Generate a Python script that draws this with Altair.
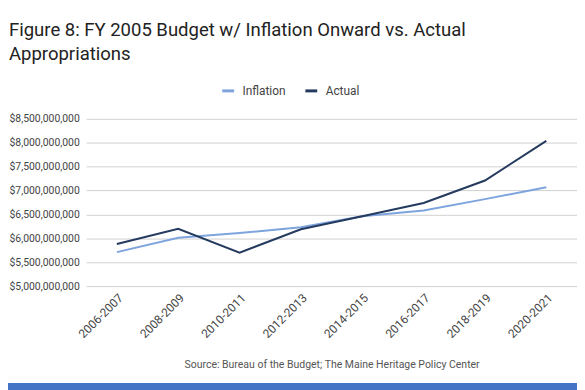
import altair as alt
import pandas as pd

periods = ["2006-2007", "2008-2009", "2010-2011", "2012-2013",
           "2014-2015", "2016-2017", "2018-2019", "2020-2021"]
inflation = [5.71e9, 6.01e9, 6.11e9, 6.23e9, 6.46e9, 6.58e9, 6.82e9, 7.07e9]
actual = [5.88e9, 6.20e9, 5.70e9, 6.19e9, 6.46e9, 6.74e9, 7.21e9, 8.04e9]
series_names = ["Inflation", "Actual"]
series_colors = ["#7ea4de", "#243a5e"]
y_ticks = [5.0e9, 5.5e9, 6.0e9, 6.5e9, 7.0e9, 7.5e9, 8.0e9, 8.5e9]

rows = []
for name, vals in zip(series_names, [inflation, actual]):
    for p, v in zip(periods, vals):
        rows.append({"Period": p, "Value": v, "Series": name})
df = pd.DataFrame(rows)

FONT = "Roboto"

lines = alt.Chart(df).mark_line(strokeWidth=2).encode(
    x=alt.X("Period:N", sort=periods,
            scale=alt.Scale(paddingInner=1, paddingOuter=0.5),
            axis=alt.Axis(labelAngle=-45, labelFontSize=12, labelColor="#444",
                          labelFont=FONT, ticks=False, domain=False, grid=False,
                          labelPadding=6,
                          title="Source: Bureau of the Budget; The Maine Heritage Policy Center",
                          titleFont=FONT, titleFontSize=10.6, titleFontWeight="normal",
                          titleColor="#555", titlePadding=20)),
    y=alt.Y("Value:Q", scale=alt.Scale(domain=[5.0e9, 8.5e9], nice=False),
            axis=alt.Axis(values=y_ticks, format="$,.0f", title=None,
                          labelFontSize=10.5, labelColor="#444", labelFont=FONT,
                          ticks=False, domain=False, gridColor="#d0d0d0",
                          labelPadding=7)),
    color=alt.Color("Series:N", sort=series_names,
                    scale=alt.Scale(domain=series_names, range=series_colors),
                    legend=alt.Legend(orient="none", legendX=136, legendY=-36,
                                      direction="horizontal", title=None,
                                      symbolType="stroke", symbolSize=144,
                                      symbolStrokeWidth=3, labelFont=FONT,
                                      labelFontSize=12, labelColor="#444",
                                      labelOffset=7, columnPadding=13)),
)

# blue frame bar along the bottom edge of the slide
frame_bar = alt.Chart(pd.DataFrame({"k": [0]})).mark_rect(color="#4472c4").encode(
    x=alt.value(-79), x2=alt.value(500), y=alt.value(267), y2=alt.value(275)
)

chart = alt.layer(lines, frame_bar).properties(
    width=496, height=169,
    title=alt.TitleParams(
        text=["Figure 8: FY 2005 Budget w/ Inflation Onward vs. Actual", "Appropriations"],
        anchor="start", frame="group", dx=-78, offset=20, font=FONT, fontSize=18.7,
        fontWeight="normal", color="#222", lineHeight=24),
    autosize=alt.AutoSizeParams(type="none"),
    padding={"left": 79, "top": 110, "right": 0, "bottom": 103},
).configure_view(stroke=None)

chart.save("out.html", embed_options={"renderer": "svg", "actions": False})
